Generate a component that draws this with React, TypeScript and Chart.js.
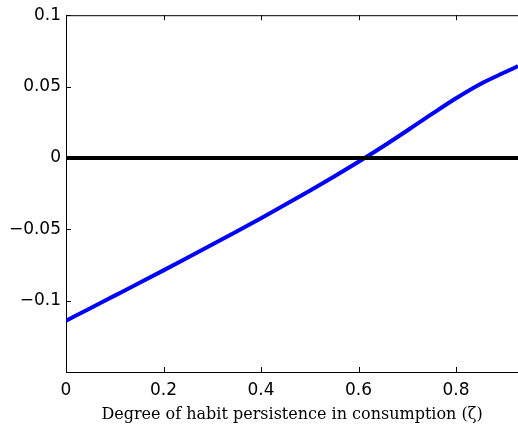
import React, { useEffect, useRef } from "react";
import { Chart, registerables } from "chart.js";

Chart.register(...registerables);

const xValues = [0, 0.05, 0.1, 0.15, 0.2, 0.25, 0.3, 0.35, 0.4, 0.45, 0.5, 0.55, 0.6, 0.65, 0.7, 0.75, 0.8, 0.85, 0.9, 0.927];
const welfareGap = [-0.114, -0.1053, -0.0965, -0.0877, -0.0788, -0.0698, -0.0607, -0.0515, -0.0422, -0.0327, -0.023, -0.013, -0.0027, 0.008, 0.0192, 0.0307, 0.0418, 0.0518, 0.06, 0.0643];
const zeroLine = [0, 0];
const zeroX = [0, 0.927];
const yTicks = [-0.1, -0.05, 0, 0.05, 0.1];
const xTicks = [0, 0.2, 0.4, 0.6, 0.8];
const xTitle = "Degree of habit persistence in consumption (\u03B6)";

const inwardTicks = {
  id: "inwardTicks",
  afterDraw(chart: any) {
    const { ctx, chartArea, scales } = chart;
    const { left, right, top, bottom } = chartArea;
    ctx.save();
    ctx.strokeStyle = "#000";
    ctx.lineWidth = 1;
    ctx.beginPath();
    ctx.moveTo(left, top + 0.5);
    ctx.lineTo(right, top + 0.5);
    const len = 5;
    for (const v of yTicks) {
      const y = Math.round(scales.y.getPixelForValue(v)) + 0.5;
      ctx.moveTo(left, y);
      ctx.lineTo(left + len, y);
    }
    for (const v of xTicks) {
      const x = Math.round(scales.x.getPixelForValue(v)) + 0.5;
      ctx.moveTo(x, bottom);
      ctx.lineTo(x, bottom - len);
      ctx.moveTo(x, top);
      ctx.lineTo(x, top + len);
    }
    ctx.stroke();
    ctx.restore();
  },
};

export default function App() {
  const ref = useRef<HTMLCanvasElement | null>(null);
  useEffect(() => {
    if (!ref.current) return;
    const chart = new Chart(ref.current, {
      type: "line",
      data: {
        datasets: [
          {
            data: zeroX.map((x, i) => ({ x, y: zeroLine[i] })),
            borderColor: "#000",
            borderWidth: 4,
            pointRadius: 0,
          },
          {
            data: xValues.map((x, i) => ({ x, y: welfareGap[i] })),
            borderColor: "#0000ff",
            borderWidth: 4,
            pointRadius: 0,
            cubicInterpolationMode: "monotone",
          },
        ],
      },
      options: {
        animation: false,
        responsive: true,
        maintainAspectRatio: false,
        layout: { padding: { top: 13, right: 0, left: 0, bottom: 0 } },
        plugins: { legend: { display: false }, tooltip: { enabled: false } },
        scales: {
          x: {
            type: "linear",
            min: 0,
            max: 0.927,
            afterBuildTicks: (s: any) => {
              s.ticks = xTicks.map((v) => ({ value: v }));
            },
            afterFit: (s: any) => {
              s.height = 52;
            },
            grid: { display: false, drawTicks: false },
            border: { display: true, color: "#000", width: 1 },
            ticks: {
              padding: 8,
              color: "#000",
              font: { family: "'DejaVu Sans', sans-serif", size: 17 },
              callback: (v: any) => String(Math.round(Number(v) * 10) / 10),
              maxRotation: 0,
            },
            title: {
              display: true,
              text: xTitle,
              color: "#000",
              padding: { top: 2, bottom: 0 },
              font: { family: "'DejaVu Serif', serif", size: 16 },
            },
          },
          y: {
            type: "linear",
            min: -0.15,
            max: 0.1,
            afterBuildTicks: (s: any) => {
              s.ticks = yTicks.map((v) => ({ value: v }));
            },
            afterFit: (s: any) => {
              s.width = 66;
            },
            grid: { display: false, drawTicks: false },
            border: { display: true, color: "#000", width: 1 },
            ticks: {
              padding: 5,
              color: "#000",
              font: { family: "'DejaVu Sans', sans-serif", size: 17 },
              callback: (v: any) => {
                const n = Math.round(Number(v) * 100) / 100;
                return n < 0 ? "\u2212" + String(-n) : String(n);
              },
            },
          },
        },
      },
      plugins: [inwardTicks],
    });
    return () => chart.destroy();
  }, []);
  return (
    <div style={{ position: "fixed", left: 0, top: 0, width: 518, height: 424, background: "#fff" }}>
      <canvas ref={ref} />
    </div>
  );
}
